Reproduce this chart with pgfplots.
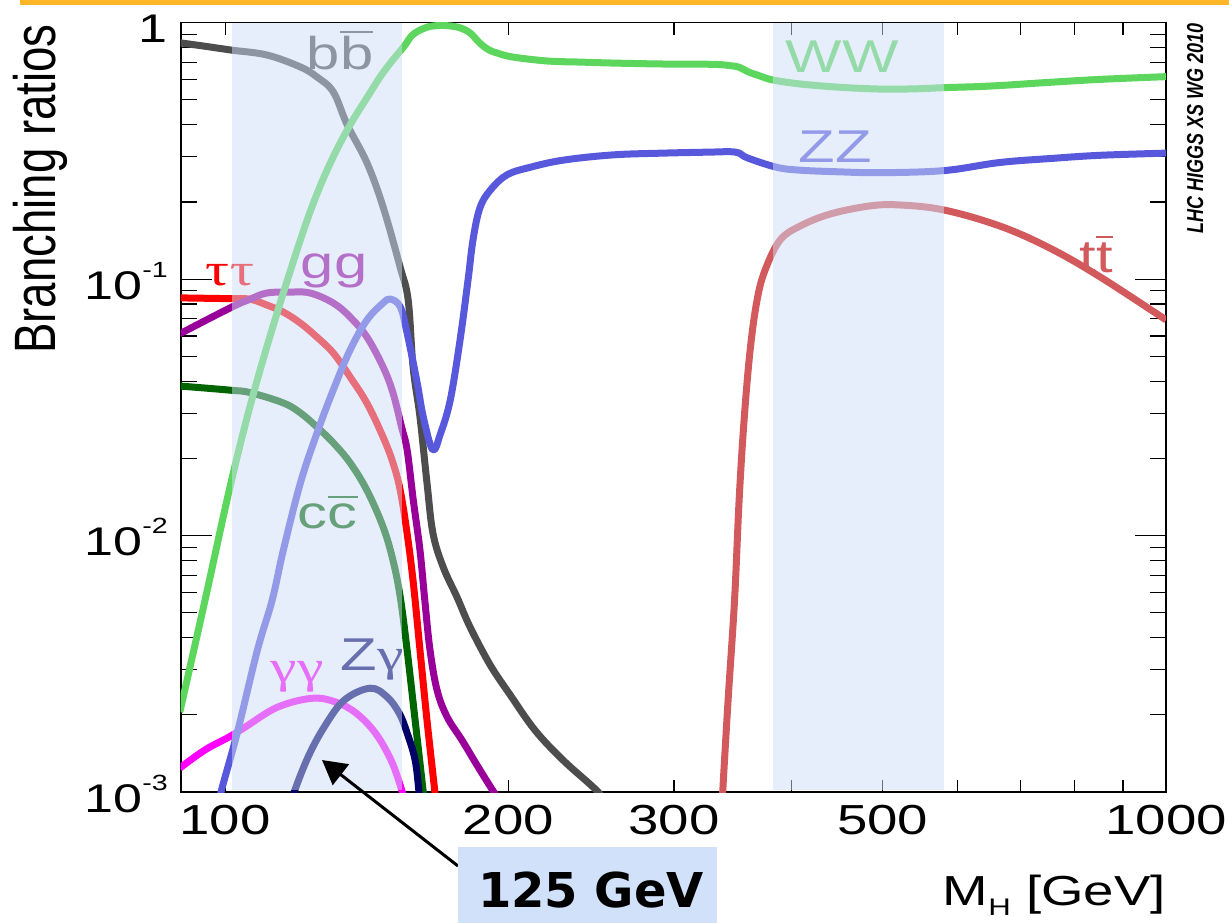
\documentclass[border=0pt]{standalone}
\usepackage{fontspec}
\setmainfont{Liberation Sans}
\newfontfamily\stsans{Liberation Sans}[FakeStretch=1.3]
\newfontfamily\stgreek{Liberation Serif}[FakeStretch=1.3]
\newfontfamily\boxfont{DejaVu Sans}
\usepackage{pgfplots}
\pgfplotsset{compat=1.18}
\usetikzlibrary{arrows.meta}

\definecolor{cbb}{RGB}{77,77,77}
\definecolor{ctau}{RGB}{255,0,0}
\definecolor{cgg}{RGB}{153,0,153}
\definecolor{ccc}{RGB}{0,100,0}
\definecolor{cgam}{RGB}{255,0,255}
\definecolor{czg}{RGB}{0,0,102}
\definecolor{cww}{RGB}{92,214,92}
\definecolor{czz}{RGB}{88,88,220}
\definecolor{ctt}{RGB}{210,90,92}
\definecolor{band}{rgb}{0.81,0.87,0.97}
\definecolor{boxbg}{RGB}{210,225,250}
\definecolor{topbar}{RGB}{252,183,40}

\newcommand\tsup[1]{\raisebox{11bp}{\fontsize{11bp}{11bp}\selectfont #1}}
\newcommand\obar[2]{\setbox0\hbox{#2}\rlap{\rule[#1]{\wd0}{1.2bp}}\box0}
\newcommand\lab{\stsans\fontsize{23bp}{23bp}\selectfont}
\newcommand\gr[1]{{\stgreek #1}}

\begin{document}
\begin{tikzpicture}[x=0.5bp,y=0.5bp]
\useasboundingbox (0,0) rectangle (1229,922);
\fill[topbar] (20,917.3) rectangle (1229,922);

\begin{axis}[
  at={(90.35bp,65bp)}, anchor=south west,
  scale only axis, width=492.65bp, height=384.65bp,
  xmode=log, ymode=log,
  xmin=89.7, xmax=1000, ymin=1e-3, ymax=1,
  axis line style={line width=0.8bp},
  tick style={line width=0.6bp, black},
  xtick={200,300,500}, xticklabels={200,300,500},
  extra x ticks={100,1000}, extra x tick labels={100,1000},
  extra x tick style={/pgfplots/major tick length=11bp},
  minor xtick={400,600,700,800,900},
  xtick style={/pgfplots/major tick length=6bp, /pgfplots/minor tick length=6bp},
  ytick={0.001,0.01,0.1,1},
  yticklabels={10\tsup{-3},10\tsup{-2},10\tsup{-1},1},
  minor ytick={0.002,0.003,0.004,0.005,0.006,0.007,0.008,0.009,
               0.02,0.03,0.04,0.05,0.06,0.07,0.08,0.09,
               0.2,0.3,0.4,0.5,0.6,0.7,0.8,0.9},
  ytick style={/pgfplots/major tick length=15.5bp, /pgfplots/minor tick length=8bp},
  xticklabel style={anchor=north, inner sep=0pt, yshift=-6.5bp,
                    font=\stsans\fontsize{21bp}{21bp}\selectfont},
  yticklabel style={anchor=base east, inner sep=0pt, xshift=-6.3bp, yshift=-10bp,
                    font=\stsans\fontsize{20bp}{20bp}\selectfont},
  every axis plot/.append style={line width=3.5bp, smooth, tension=0.6, line join=round},
]

% H -> bb
\addplot[cbb] coordinates {(89.5,0.835) (95,0.81) (101.5,0.782) (110.8,0.748) (120.2,0.672)
 (125.2,0.614) (130.3,0.537) (134.8,0.40) (141.5,0.284) (147.2,0.191) (153.5,0.111)
 (156.5,0.083) (158.4,0.0454) (161.1,0.029) (163.9,0.016) (166.3,0.0102) (170.5,0.00754)
 (176.4,0.00575) (182.1,0.0044) (191.3,0.00313) (200.9,0.00239) (213.5,0.00174)
 (228.7,0.00133) (249.1,0.001) (253,0.00089)};

% H -> tau tau
\addplot[ctau] coordinates {(89.5,0.0845) (101.2,0.0839) (106.3,0.0835) (110.8,0.0792)
 (115.3,0.0744) (120.2,0.0674) (125.2,0.0594) (130.3,0.0515) (135.8,0.0415) (141.5,0.0328)
 (147.2,0.0242) (150.8,0.0192) (153.5,0.015) (156.1,0.0102) (158.5,0.00652) (161.1,0.00358)
 (163.9,0.0019) (167.1,0.001) (167.9,0.00085)};

% H -> gg
\addplot[cgg] coordinates {(89.5,0.0612) (101.2,0.0772) (106.3,0.0835) (110.8,0.0883)
 (117.2,0.089) (123.1,0.0883) (130.3,0.0807) (135.8,0.0711) (141.5,0.0594) (147.2,0.0454)
 (150.8,0.036) (154,0.0265) (156.1,0.0216) (158.5,0.0137) (161.1,0.00877) (163,0.0056)
 (165.1,0.00358) (168,0.00249) (172.2,0.00196) (178.6,0.00159) (185.8,0.00125) (193,0.001)
 (197.4,0.00089)};

% H -> cc
\addplot[ccc] coordinates {(89.5,0.0383) (101.2,0.0369) (106.3,0.0361) (115.3,0.0329)
 (120.2,0.0301) (125.2,0.0265) (130.3,0.023) (135.8,0.0192) (141.5,0.015) (147.2,0.0108)
 (150.8,0.008) (153.5,0.00575) (156.1,0.00358) (159.2,0.0019) (162.4,0.001) (163.3,0.00085)};

% H -> gamma gamma
\addplot[cgam] coordinates {(89.5,0.00124) (95.2,0.00146) (101,0.00164) (105,0.00179)
 (113.6,0.00214) (123.7,0.00232) (131.2,0.00224) (137.8,0.00203) (144.4,0.0017)
 (150.1,0.00133) (153.9,0.00103) (155.4,0.00089)};

% H -> Z gamma
\addplot[czg] coordinates {(117.5,0.00089) (118.4,0.001) (122.5,0.00137) (127.4,0.00179)
 (133.8,0.00228) (142.6,0.00254) (148.6,0.00235) (153.1,0.00203) (156.1,0.0017)
 (159.2,0.00133) (160.7,0.001) (161.1,0.00089)};

% H -> WW
\addplot[cww] coordinates {(89.5,0.00205) (95.2,0.0056) (101,0.015) (106.3,0.032)
 (112.5,0.066) (120.2,0.142) (125.2,0.215) (130.3,0.30) (135.8,0.40) (141.5,0.51)
 (146.1,0.614) (150,0.70) (155,0.81) (158.4,0.90) (163.9,0.96) (169,0.975) (173,0.972)
 (177.7,0.955) (182.1,0.912) (186.5,0.833) (190.5,0.785) (194.5,0.762) (202,0.735)
 (219.9,0.709) (238.4,0.702) (258,0.696) (292,0.69) (330,0.688) (344,0.68) (352,0.67)
 (359,0.645) (370,0.62) (382,0.598) (408,0.577) (450,0.56) (497,0.551) (540,0.552)
 (581,0.558) (650,0.566) (750,0.585) (851,0.601) (1000,0.616)};

% H -> ZZ
\addplot[czz] coordinates {(98.7,0.00089) (99,0.001) (103,0.0017) (108.2,0.00357)
 (112.2,0.0056) (115.3,0.00877) (120.2,0.016) (125.2,0.0251) (130.3,0.037) (135.8,0.053)
 (141.5,0.0693) (147.2,0.0807) (149.8,0.0836) (153.5,0.078) (156.1,0.0616) (160,0.0394)
 (162.4,0.029) (166.2,0.0216) (169.4,0.025) (173.5,0.0338) (177.7,0.0579) (181.2,0.0992)
 (183.4,0.142) (186.5,0.189) (191.3,0.222) (199.3,0.255) (211,0.273) (228.7,0.291)
 (258,0.305) (292,0.31) (330,0.313) (344,0.314) (352,0.31) (359,0.297) (385.6,0.273)
 (408,0.266) (450,0.262) (497,0.26) (581,0.265) (666,0.285) (760,0.296) (851,0.304)
 (1000,0.31)};

% H -> tt
\addplot[ctt] coordinates {(337.5,0.00089) (337.9,0.001) (342.4,0.00228) (347.9,0.0056)
 (351.8,0.01375) (356.1,0.0282) (361.4,0.0529) (367.6,0.0829) (374.9,0.1085) (388.9,0.142)
 (408.3,0.161) (439.5,0.1794) (484.6,0.193) (521.6,0.1946) (580.8,0.186) (666.1,0.161)
 (752.9,0.132) (851,0.102) (1000,0.0693)};

% channel names
\node[anchor=base, inner sep=0, text=cbb, font=\lab] at (axis cs:132.5,0.654) {b\obar{18.5bp}{b}};
\node[anchor=base, inner sep=0, text=cww, font=\lab] at (axis cs:452.5,0.642) {WW};
\node[anchor=base, inner sep=0, text=czz, font=\lab] at (axis cs:444.9,0.286) {ZZ};
\node[anchor=base, inner sep=0, text=ctt, font=\lab] at (axis cs:842.6,0.1066) {t\obar{17bp}{t}};
\node[anchor=base, inner sep=0, text=ctau, font=\lab] at (axis cs:101.2,0.0948) {\gr{ττ}};
\node[anchor=base, inner sep=0, text=cgg, font=\lab] at (axis cs:130.6,0.101) {gg};
\node[anchor=base, inner sep=0, text=ccc, font=\lab] at (axis cs:128.5,0.0107) {c\obar{15bp}{c}};
\node[anchor=base, inner sep=0, text=cgam, font=\lab] at (axis cs:119.3,0.00268) {\gr{γγ}};
\node[anchor=base, inner sep=0, text=czg, font=\lab] at (axis cs:143.3,0.00299) {Z\gr{γ}};

% mass windows
\addplot[draw=none, fill=band, fill opacity=0.5, sharp plot]
  coordinates {(101.6,1.02e-3) (154.2,1.02e-3) (154.2,1) (101.6,1)};
\addplot[draw=none, fill=band, fill opacity=0.5, sharp plot]
  coordinates {(382.3,1.02e-3) (581,1.02e-3) (581,1) (382.3,1)};
\end{axis}

\begin{scope}[shift={(55,898)}]
  \node[anchor=base east, inner sep=0, xscale=1.28, rotate=90, transform shape,
        font=\fontsize{22.8bp}{22.8bp}\selectfont] at (0,0) {Branching ratios};
\end{scope}
\begin{scope}[shift={(1203,899)}]
  \node[anchor=base east, inner sep=0, xscale=1.28, rotate=90, transform shape,
        font=\fontsize{9bp}{9bp}\selectfont\bfseries\itshape] at (0,0) {LHC HIGGS XS WG 2010};
\end{scope}

\node[anchor=base east, inner sep=0, font=\stsans\fontsize{21bp}{21bp}\selectfont]
  at (1166,17) {M\raisebox{-5bp}{\fontsize{12bp}{12bp}\selectfont H} [GeV]};

\draw[line width=1.5bp, -{Triangle[length=12bp,width=13bp]}] (458,56) -- (322,162);
\fill[boxbg] (458,-5) rectangle (717,75);
\node[anchor=base, inner sep=0, font=\boxfont\bfseries\fontsize{24bp}{24bp}\selectfont]
  at (591,15) {125 GeV};
\end{tikzpicture}
\end{document}
